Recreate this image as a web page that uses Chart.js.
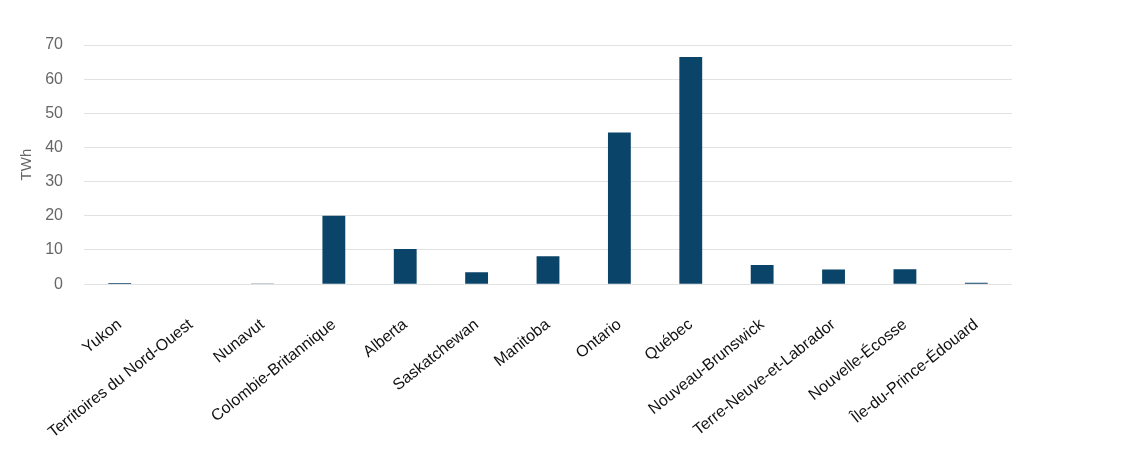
<!DOCTYPE html>
<html>
<head>
<meta charset="utf-8">
<script src="https://cdn.jsdelivr.net/npm/chart.js@4"></script>
<style>
  html, body { margin: 0; padding: 0; background: #fff; }
  #wrap { width: 1140px; height: 475px; }
</style>
</head>
<body>
<div id="wrap"><canvas id="graf"></canvas></div>
<script>
// provinces et territoires
const provinces = ['Yukon', 'Territoires du Nord-Ouest', 'Nunavut', 'Colombie-Britannique', 'Alberta',
  'Saskatchewan', 'Manitoba', 'Ontario', 'Québec', 'Nouveau-Brunswick',
  'Terre-Neuve-et-Labrador', 'Nouvelle-Écosse', 'Île-du-Prince-Édouard'];
const valeursTWh = [0.35, 0.1, 0.05, 20.0, 10.3, 3.5, 8.2, 44.4, 66.5, 5.6, 4.3, 4.4, 0.4];
const ticksY = [0, 10, 20, 30, 40, 50, 60, 70];
const titreY = 'TWh';

const police = '"Liberation Sans", Arial, Helvetica, sans-serif';

new Chart(document.getElementById('graf'), {
  type: 'bar',
  data: {
    labels: provinces,
    datasets: [{
      data: valeursTWh,
      backgroundColor: '#0a4468',
      borderColor: '#0a4468',
      borderWidth: 0,
      categoryPercentage: 1,
      barPercentage: 0.32
    }]
  },
  options: {
    responsive: true,
    maintainAspectRatio: false,
    animation: false,
    layout: { padding: { top: 45, right: 128, bottom: 10, left: 10 } },
    plugins: { legend: { display: false }, tooltip: { enabled: false } },
    scales: {
      x: {
        grid: { display: false },
        border: { display: false },
        ticks: {
          color: '#111',
          font: { family: police, size: 16 },
          minRotation: 38.5,
          maxRotation: 38.5,
          autoSkip: false,
          padding: 23
        }
      },
      y: {
        min: 0,
        max: 70,
        afterBuildTicks: (axe) => { axe.ticks = ticksY.map(v => ({ value: v })); },
        afterFit: (axe) => { axe.width = 74; },
        grid: { color: '#e2e2e2', lineWidth: 1, drawTicks: false },
        border: { display: false },
        ticks: {
          color: '#666',
          font: { family: police, size: 16 },
          padding: 21
        },
        title: {
          display: true,
          text: titreY,
          color: '#666',
          font: { family: police, size: 15 },
          padding: { top: 8, bottom: 0 }
        }
      }
    }
  }
});
</script>
</body>
</html>
